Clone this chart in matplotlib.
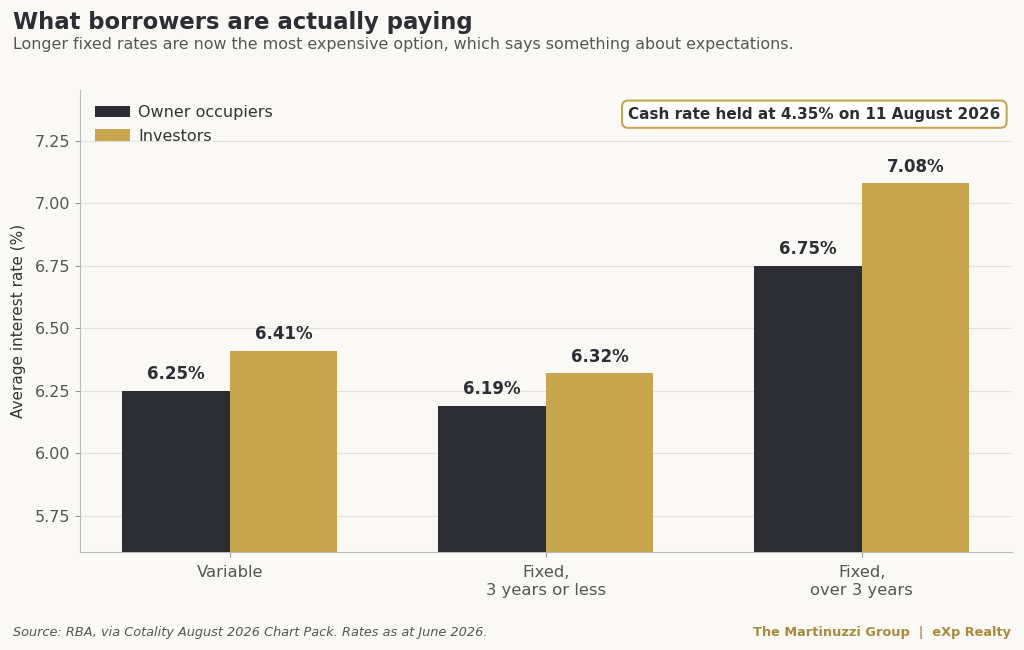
import matplotlib.pyplot as plt
import numpy as np

# data
categories = ["Variable", "Fixed,\n3 years or less", "Fixed,\nover 3 years"]
owner_occupiers = [6.25, 6.19, 6.75]
investors = [6.41, 6.32, 7.08]

dark = "#2d2e33"
gold = "#c8a64f"
bg = "#faf9f6"

fig, ax = plt.subplots(figsize=(10.24, 6.5), dpi=100)
fig.patch.set_facecolor(bg)
ax.set_facecolor(bg)
plt.subplots_adjust(left=0.078, right=0.988, top=0.862, bottom=0.151)

x = np.arange(len(categories))
w = 0.34
b1 = ax.bar(x - w / 2, owner_occupiers, w, color=dark, label="Owner occupiers", zorder=3)
b2 = ax.bar(x + w / 2, investors, w, color=gold, label="Investors", zorder=3)

for bars, vals in ((b1, owner_occupiers), (b2, investors)):
    for bar, v in zip(bars, vals):
        ax.text(bar.get_x() + bar.get_width() / 2, v + 0.03, "%.2f%%" % v,
                ha="center", va="bottom", fontsize=12, fontweight="bold", color=dark)

ax.set_ylim(5.605, 7.455)
ax.set_yticks([5.75, 6.0, 6.25, 6.5, 6.75, 7.0, 7.25])
ax.set_xticks(x)
ax.set_xticklabels(categories, linespacing=1.25)
ax.tick_params(axis="y", labelsize=11.5, labelcolor="#555555", color="#999999")
ax.tick_params(axis="x", labelsize=11.8, labelcolor="#555555", color="#999999", pad=6)
ax.set_ylabel("Average interest rate (%)", fontsize=11, color="#333333", labelpad=6)

ax.grid(axis="y", color="#e4e2dd", linewidth=0.9, zorder=0)
for s in ("top", "right"):
    ax.spines[s].set_visible(False)
for s in ("left", "bottom"):
    ax.spines[s].set_color("#bbbbbb")

leg = ax.legend(loc="upper left", frameon=False, fontsize=11.5, handlelength=2.2,
                handletextpad=0.5, labelspacing=0.55, borderaxespad=0.55)
for t in leg.get_texts():
    t.set_color("#333333")

ax.text(0.988, 0.947, "Cash rate held at 4.35% on 11 August 2026", transform=ax.transAxes,
        ha="right", va="center", fontsize=11, fontweight="bold", color=dark,
        bbox=dict(boxstyle="round,pad=0.4", facecolor="white", edgecolor=gold, linewidth=1.5))

fig.text(0.013, 0.966, "What borrowers are actually paying", fontsize=16.4,
         fontweight="bold", color=dark, ha="left", va="center")
fig.text(0.013, 0.931, "Longer fixed rates are now the most expensive option, which says something about expectations.",
         fontsize=11.4, color="#555555", ha="left", va="center")
fig.text(0.013, 0.027, "Source: RBA, via Cotality August 2026 Chart Pack. Rates as at June 2026.",
         fontsize=9.3, style="italic", color="#555555", ha="left", va="center")
fig.text(0.987, 0.027, "The Martinuzzi Group  |  eXp Realty", fontsize=9.3,
         fontweight="bold", color="#a88a3a", ha="right", va="center")

plt.savefig("out.png", dpi=100, facecolor=bg)
